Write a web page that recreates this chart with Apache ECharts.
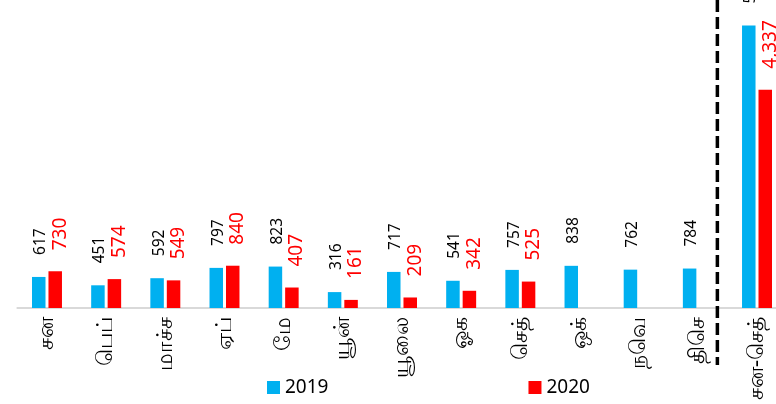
<!DOCTYPE html>
<html>
<head>
<meta charset="utf-8">
<script src="https://cdn.jsdelivr.net/npm/echarts@6/dist/echarts.min.js"></script>
<style>
  html, body { margin: 0; padding: 0; background: #fff; }
  #main { width: 776px; height: 404px; }
</style>
</head>
<body>
<div id="main"></div>
<script>
// months (Tamil abbreviations) + Jan-Sep total
const months = ['சன', 'பெப்', 'மாச்ச', 'ஏப்', 'மே', 'யூன்', 'யூலை', 'ஓக', 'செத்', 'ஒக்', 'நவெ', 'திசெ', 'சன-செத்']
const v2019 = [617, 451, 592, 797, 823, 316, 717, 541, 757, 838, 762, 784, 5611]
const v2020 = [730, 574, 549, 840, 407, 161, 209, 342, 525, null, null, null, 4337]
const seriesNames = ['2019', '2020']

const chart = echarts.init(document.getElementById('main'))

const fmt = p => p.value == null ? '' : Number(p.value).toLocaleString('en-US')

chart.setOption({
  animation: false,
  textStyle: { fontFamily: 'Noto Sans, sans-serif' },
  // last category is cut off by the right edge in the original
  grid: { left: 17.4, width: 769.2, top: 6, height: 302, outerBoundsMode: 'none' },
  legend: {
    left: 262,
    top: 373,
    itemWidth: 13,
    itemHeight: 13,
    itemGap: 200,
    icon: 'rect',
    textStyle: { fontSize: 19, color: '#000' },
    data: seriesNames
  },
  xAxis: {
    type: 'category',
    data: months,
    axisLine: { lineStyle: { color: '#d9d9d9', width: 2 } },
    axisTick: { show: false },
    axisLabel: { rotate: 90, color: '#000', fontSize: 22, margin: 9, interval: 0 }
  },
  yAxis: {
    type: 'value',
    min: 0,
    max: 6000,
    show: false,
    splitLine: { show: false }
  },
  series: [
    {
      name: seriesNames[0],
      type: 'bar',
      data: v2019,
      barWidth: 13.5,
      barGap: '22%',
      itemStyle: { color: '#00b0f0' },
      label: {
        show: true,
        position: 'top',
        rotate: 90,
        align: 'left',
        verticalAlign: 'middle',
        distance: 22,
        offset: [0, 2],
        color: '#000',
        fontSize: 15.5,
        formatter: fmt
      }
    },
    {
      name: seriesNames[1],
      type: 'bar',
      data: v2020,
      barWidth: 13.5,
      itemStyle: { color: '#ff0000' },
      label: {
        show: true,
        position: 'top',
        rotate: 90,
        align: 'left',
        verticalAlign: 'middle',
        distance: 21,
        offset: [0, 5],
        color: '#ff0000',
        fontSize: 19,
        formatter: fmt
      }
    }
  ]
})

// dashed divider between Dec and the Jan-Sep total
const xa = chart.convertToPixel({ xAxisIndex: 0 }, months[11])
const xb = chart.convertToPixel({ xAxisIndex: 0 }, months[12])
const xd = xa + (xb - xa) * 0.33
chart.setOption({
  graphic: [{
    type: 'line',
    shape: { x1: xd, y1: 0, x2: xd, y2: 365 },
    style: { stroke: '#000', lineWidth: 3.5, lineDash: [12, 5] },
    z: 10
  }]
})
</script>
</body>
</html>
